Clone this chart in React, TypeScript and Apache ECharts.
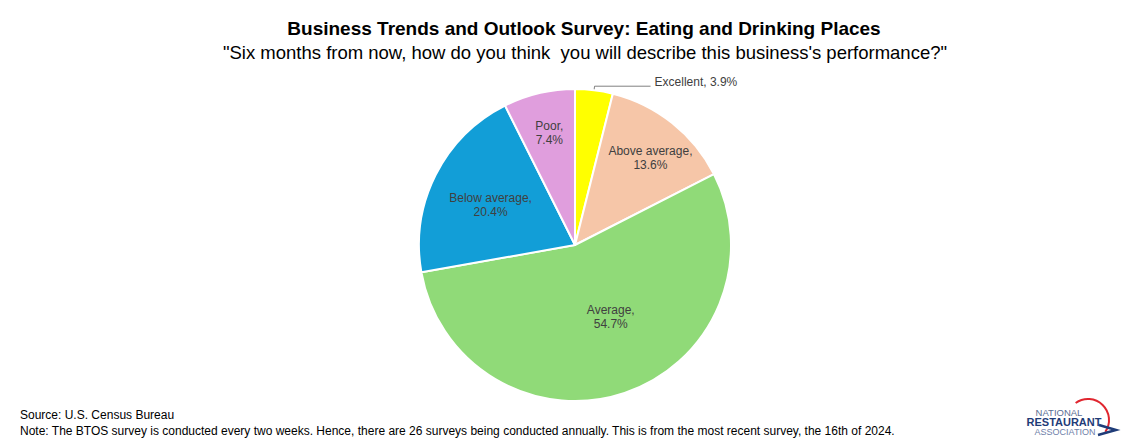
import React, { useEffect, useRef } from "react";
import * as echarts from "echarts";

const categories = ["Excellent", "Above average", "Average", "Below average", "Poor"];
const values = [3.9, 13.6, 54.7, 20.4, 7.4];
const colors = ["#FFFF00", "#F6C6A8", "#90DA78", "#129ED7", "#E09EDD"];
// label nudges (style only), keyed by category
const labelNudge: Record<string, [number, number]> = {
  Excellent: [2, -4],
  "Above average": [25, -24],
  Average: [10, -5],
  "Below average": [-12, -4],
  Poor: [-7, -33],
};

const titleText = "Business Trends and Outlook Survey: Eating and Drinking Places";
const subtitleText = "\"Six months from now, how do you think  you will describe this business's performance?\"";
const sourceText = "Source: U.S. Census Bureau";
const noteText =
  "Note: The BTOS survey is conducted every two weeks. Hence, there are 26 surveys being conducted annually. This is from the most recent survey, the 16th of 2024.";

export default function App() {
  const ref = useRef<HTMLDivElement>(null);
  useEffect(() => {
    document.body.style.margin = "0";
    const chart = echarts.init(ref.current!, undefined, { renderer: "svg" });
    const font = "Arial, 'Liberation Sans', sans-serif";
    const data = categories.map((name, i) => {
      const item: any = { name, value: values[i], itemStyle: { color: colors[i] } };
      if (name === "Excellent") {
        item.label = { position: "outside", formatter: (p: any) => `${p.name}, ${p.value.toFixed(1)}%`, distanceToLabelLine: 2 };
        item.labelLine = { show: true, length: 4, length2: 56, lineStyle: { color: "#808080", width: 1 } };
      }
      return item;
    });
    chart.setOption({
      animation: false,
      backgroundColor: "#ffffff",
      series: [
        {
          type: "pie",
          center: [575, 245],
          radius: 156,
          startAngle: 90,
          clockwise: true,
          avoidLabelOverlap: false,
          itemStyle: { borderColor: "#ffffff", borderWidth: 2 },
          label: {
            show: true,
            position: "inside",
            color: "#404040",
            fontSize: 12,
            fontFamily: font,
            lineHeight: 14,
            align: "center",
            formatter: (p: any) => `${p.name},\n${p.value.toFixed(1)}%`,
          },
          labelLine: { show: false },
          labelLayout: (params: any) => {
            const n = labelNudge[categories[params.dataIndex]] || [0, 0];
            return { dx: n[0], dy: n[1] };
          },
          emphasis: { disabled: true },
          data,
        },
      ],
      graphic: [
        {
          type: "text",
          x: 584,
          y: 28,
          style: {
            text: titleText,
            fontSize: 19,
            fontWeight: "bold",
            fontFamily: font,
            fill: "#000",
            textAlign: "center",
            textVerticalAlign: "middle",
          },
        },
        {
          type: "text",
          x: 585,
          y: 52,
          style: {
            text: subtitleText,
            fontSize: 18.5,
            fontFamily: font,
            fill: "#000",
            textAlign: "center",
            textVerticalAlign: "middle",
          },
        },
        {
          type: "text",
          x: 20,
          y: 415,
          style: { text: sourceText, fontSize: 12, fontFamily: font, fill: "#000", textVerticalAlign: "middle" },
        },
        {
          type: "text",
          x: 20,
          y: 431,
          style: { text: noteText, fontSize: 12, fontFamily: font, fill: "#000", textVerticalAlign: "middle" },
        },
        // logo
        {
          type: "arc",
          shape: { cx: 1088, cy: 420, r: 21, startAngle: -2.2, endAngle: 0.6, clockwise: true },
          style: { stroke: "#E0262F", lineWidth: 2, fill: "none" },
        },
        {
          type: "polyline",
          shape: { points: [[1099, 425], [1116, 430], [1098, 435]] },
          style: { stroke: "#1F3C78", lineWidth: 2.5, fill: "none" },
        },
        {
          type: "text",
          x: 1059,
          y: 412,
          style: { text: "NATIONAL", fontSize: 9.5, fontFamily: font, fill: "#5B6E93", textAlign: "center", textVerticalAlign: "middle" },
        },
        {
          type: "text",
          x: 1064,
          y: 422,
          style: { text: "RESTAURANT", fontSize: 11, fontWeight: "bold", fontFamily: font, fill: "#1F3C78", textAlign: "center", textVerticalAlign: "middle" },
        },
        {
          type: "text",
          x: 1065,
          y: 432,
          style: { text: "ASSOCIATION", fontSize: 9, fontFamily: font, fill: "#6D80A8", textAlign: "center", textVerticalAlign: "middle" },
        },
      ],
    });
    return () => chart.dispose();
  }, []);
  return <div ref={ref} style={{ width: 1138, height: 448 }} />;
}
